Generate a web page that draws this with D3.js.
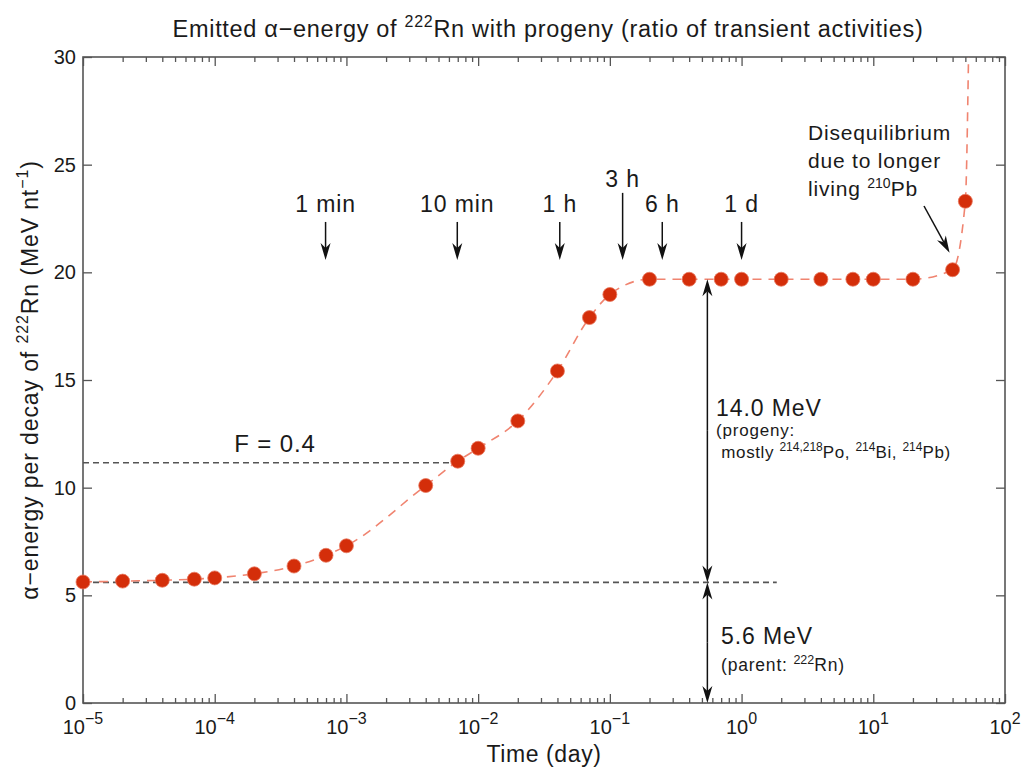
<!DOCTYPE html>
<html>
<head>
<meta charset="utf-8">
<script src="https://cdn.jsdelivr.net/npm/d3@7"></script>
<style>
  body { margin: 0; background: #fff; }
  svg { font-family: "Liberation Sans", Arial, sans-serif; }
</style>
</head>
<body>
<svg id="chart" width="1024" height="767"></svg>
<script>
// data
const days = [1e-5, 2e-5, 4e-5, 7e-5, 1e-4, 2e-4, 4e-4, 7e-4, 1e-3, 4e-3, 7e-3, 1e-2, 2e-2, 4e-2, 7e-2, 0.1, 0.2, 0.4, 0.7, 1, 2, 4, 7, 10, 20, 40, 50];
const energy = [5.62, 5.66, 5.7, 5.75, 5.81, 6.0, 6.36, 6.86, 7.3, 10.1, 11.23, 11.83, 13.1, 15.42, 17.9, 18.97, 19.68, 19.68, 19.68, 19.68, 19.68, 19.68, 19.68, 19.68, 19.68, 20.12, 23.3];
// the dashed curve keeps rising past the last point
const curveTailDay = [53];
const curveTailEnergy = [30.5];

const markerLabels = ['1 min', '10 min', '1 h', '3 h', '6 h', '1 d'];
const markerDays = [1 / 1440, 10 / 1440, 1 / 24, 3 / 24, 6 / 24, 1];

const xTickExp = [-5, -4, -3, -2, -1, 0, 1, 2];
const yTicks = [0, 5, 10, 15, 20, 25, 30];

const parentEnergy = 5.6;
const plateauEnergy = 19.68;
const fLevel = 11.16;
const splitDay = 0.55;

let svg = d3.select('#chart');
let pLeft = 83, pRight = 1005, pTop = 57, pBottom = 703;

let x = d3.scaleLog().domain([1e-5, 1e2]).range([pLeft, pRight]);
let y = d3.scaleLinear().domain([0, 30]).range([pBottom, pTop]);

let axisColor = '#555';
let textColor = '#1a1a1a';

// clip for the curve
svg.append('clipPath').attr('id', 'plotclip')
  .append('rect').attr('x', pLeft).attr('y', pTop).attr('width', pRight - pLeft).attr('height', pBottom - pTop);

// minor ticks positions
let minor = [];
for (let e = -5; e < 2; e++) {
  for (let m = 2; m <= 9; m++) minor.push(m * Math.pow(10, e));
}
let major = xTickExp.map(e => Math.pow(10, e));

function styleAxis(g) {
  g.select('.domain').remove();
  g.selectAll('line').attr('stroke', axisColor).attr('stroke-width', 1.3);
}

// x axes (ticks inside, bottom and top)
svg.append('g').attr('transform', `translate(0,${pBottom})`)
  .call(d3.axisBottom(x).tickValues(major).tickSize(-9).tickFormat(''))
  .call(styleAxis);
svg.append('g').attr('transform', `translate(0,${pBottom})`)
  .call(d3.axisBottom(x).tickValues(minor).tickSize(-5).tickFormat(''))
  .call(styleAxis);
svg.append('g').attr('transform', `translate(0,${pTop})`)
  .call(d3.axisTop(x).tickValues(major).tickSize(-9).tickFormat(''))
  .call(styleAxis);
svg.append('g').attr('transform', `translate(0,${pTop})`)
  .call(d3.axisTop(x).tickValues(minor).tickSize(-5).tickFormat(''))
  .call(styleAxis);

// y axes
let yl = svg.append('g').attr('transform', `translate(${pLeft},0)`)
  .call(d3.axisLeft(y).tickValues(yTicks).tickSize(-9).tickPadding(7))
  .call(styleAxis);
yl.selectAll('text').attr('font-size', 20).attr('fill', textColor)
  .attr('font-family', '"Liberation Sans", Arial, sans-serif');
svg.append('g').attr('transform', `translate(${pRight},0)`)
  .call(d3.axisRight(y).tickValues(yTicks).tickSize(-9).tickFormat(''))
  .call(styleAxis);

// box
svg.append('rect')
  .attr('x', pLeft).attr('y', pTop).attr('width', pRight - pLeft).attr('height', pBottom - pTop)
  .attr('fill', 'none').attr('stroke', axisColor).attr('stroke-width', 1.6);

// x tick labels 10^n
let xl = svg.append('g');
xTickExp.forEach(e => {
  let t = xl.append('text')
    .attr('x', x(Math.pow(10, e))).attr('y', pBottom + 31)
    .attr('text-anchor', 'middle').attr('font-size', 20).attr('fill', textColor);
  t.append('tspan').text('10');
  t.append('tspan').attr('dy', -10).attr('font-size', 16).text(e < 0 ? '\u2212' + (-e) : e);
});

// axis titles
svg.append('text')
  .attr('x', (pLeft + pRight) / 2).attr('y', 762)
  .attr('text-anchor', 'middle').attr('font-size', 23).attr('letter-spacing', 0.6)
  .attr('fill', textColor)
  .text('Time (day)');

let ylab = svg.append('text')
  .attr('transform', `translate(38,${(pTop + pBottom) / 2}) rotate(-90)`)
  .attr('text-anchor', 'middle').attr('font-size', 23).attr('letter-spacing', 0.9)
  .attr('fill', textColor);
ylab.append('tspan').text('\u03b1\u2212energy per decay of ');
ylab.append('tspan').attr('dy', -10).attr('font-size', 16).text('222');
ylab.append('tspan').attr('dy', 10).text('Rn (MeV nt');
ylab.append('tspan').attr('dy', -10).attr('font-size', 16).text('\u22121');
ylab.append('tspan').attr('dy', 10).text(')');

// title
let title = svg.append('text')
  .attr('x', 548).attr('y', 37)
  .attr('text-anchor', 'middle').attr('font-size', 23.5).attr('letter-spacing', 0.7)
  .attr('fill', textColor);
title.append('tspan').text('Emitted \u03b1\u2212energy of ');
title.append('tspan').attr('dy', -10).attr('font-size', 16).text('222');
title.append('tspan').attr('dy', 10).text('Rn with progeny (ratio of transient activities)');

// reference dashed lines
svg.append('line')
  .attr('x1', x(1e-5)).attr('x2', x(1.85))
  .attr('y1', y(parentEnergy)).attr('y2', y(parentEnergy))
  .attr('stroke', '#555').attr('stroke-width', 1.6).attr('stroke-dasharray', '6,4');
svg.append('line')
  .attr('x1', x(1e-5)).attr('x2', x(6.1e-3))
  .attr('y1', y(fLevel)).attr('y2', y(fLevel))
  .attr('stroke', '#555').attr('stroke-width', 1.6).attr('stroke-dasharray', '6,4');
svg.append('text')
  .attr('x', 275).attr('y', y(fLevel) - 11)
  .attr('text-anchor', 'middle').attr('font-size', 24).attr('letter-spacing', 0.9)
  .attr('fill', textColor)
  .text('F = 0.4');

// red dashed curve through the points
let curvePts = days.map((d, i) => [d, energy[i]])
  .concat(curveTailDay.map((d, i) => [d, curveTailEnergy[i]]));
let line = d3.line()
  .x(d => x(d[0])).y(d => y(d[1]))
  .curve(d3.curveMonotoneX);
svg.append('path')
  .attr('d', line(curvePts))
  .attr('clip-path', 'url(#plotclip)')
  .attr('fill', 'none').attr('stroke', '#f08470').attr('stroke-width', 1.6)
  .attr('stroke-dasharray', '9,7');

// points
svg.selectAll('circle.pt')
  .data(days.map((d, i) => [d, energy[i]]))
  .enter()
  .append('circle')
  .attr('class', 'pt')
  .attr('cx', d => x(d[0]))
  .attr('cy', d => y(d[1]))
  .attr('r', 7)
  .attr('fill', '#d42e0a')
  .attr('stroke', '#e8795f')
  .attr('stroke-width', 0.8);

// arrow helper: line from (x1,y1) to (x2,y2) with head at the end
function arrow(x1, y1, x2, y2, color, width) {
  let ang = Math.atan2(y2 - y1, x2 - x1);
  let len = 17, half = 5, notch = 5;
  let bx = x2 - len * Math.cos(ang), by = y2 - len * Math.sin(ang);
  let nx = x2 - (len - notch) * Math.cos(ang), ny = y2 - (len - notch) * Math.sin(ang);
  let px = -Math.sin(ang), py = Math.cos(ang);
  svg.append('line')
    .attr('x1', x1).attr('y1', y1).attr('x2', nx).attr('y2', ny)
    .attr('stroke', color).attr('stroke-width', width);
  svg.append('path')
    .attr('d', `M${x2},${y2}L${bx + px * half},${by + py * half}L${nx},${ny}L${bx - px * half},${by - py * half}Z`)
    .attr('fill', color);
}

// time markers
markerLabels.forEach((lab, i) => {
  let long = lab === '3 h';
  let cx = x(markerDays[i]);
  arrow(cx, long ? y(23.69) : y(22.34), cx, y(20.57), '#111', 1.5);
  svg.append('text')
    .attr('x', cx).attr('y', long ? y(23.97) : y(22.8))
    .attr('text-anchor', 'middle').attr('font-size', 23).attr('letter-spacing', 0.9)
    .attr('fill', textColor)
    .text(lab);
});

// energy split arrows
let sx = x(splitDay);
let sMid = (y(plateauEnergy) + y(parentEnergy)) / 2;
arrow(sx, sMid, sx, y(plateauEnergy), '#111', 1.5);
arrow(sx, sMid, sx, y(parentEnergy), '#111', 1.5);
let sLow = (y(parentEnergy) + y(0)) / 2;
arrow(sx, sLow, sx, y(parentEnergy), '#111', 1.5);
arrow(sx, sLow, sx, y(0), '#111', 1.5);

svg.append('text').attr('x', 716).attr('y', 416)
  .attr('font-size', 23).attr('letter-spacing', 0.9).attr('fill', textColor).text('14.0 MeV');
svg.append('text').attr('x', 716).attr('y', 436)
  .attr('font-size', 17).attr('letter-spacing', 0.8).attr('fill', textColor).text('(progeny:');
let prog = svg.append('text').attr('x', 716).attr('y', 458)
  .attr('font-size', 17).attr('letter-spacing', 0.6).attr('fill', textColor).attr('xml:space', 'preserve');
prog.append('tspan').text(' mostly ');
prog.append('tspan').attr('dy', -7).attr('font-size', 12).attr('letter-spacing', 0).text('214,218');
prog.append('tspan').attr('dy', 7).text('Po, ');
prog.append('tspan').attr('dy', -7).attr('font-size', 12).attr('letter-spacing', 0).text('214');
prog.append('tspan').attr('dy', 7).text('Bi, ');
prog.append('tspan').attr('dy', -7).attr('font-size', 12).attr('letter-spacing', 0).text('214');
prog.append('tspan').attr('dy', 7).text('Pb)');

svg.append('text').attr('x', 721).attr('y', 644)
  .attr('font-size', 23).attr('letter-spacing', 0.9).attr('fill', textColor).text('5.6 MeV');
let par = svg.append('text').attr('x', 721).attr('y', 671)
  .attr('font-size', 17.5).attr('letter-spacing', 0.8).attr('fill', textColor);
par.append('tspan').text('(parent: ');
par.append('tspan').attr('dy', -7).attr('font-size', 12.5).attr('letter-spacing', 0).text('222');
par.append('tspan').attr('dy', 7).text('Rn)');

// disequilibrium note
let noteLines = ['Disequilibrium', 'due to longer'];
noteLines.forEach((t, i) => {
  svg.append('text').attr('x', 808).attr('y', 140 + i * 28)
    .attr('font-size', 21).attr('letter-spacing', 0.8).attr('fill', textColor).text(t);
});
let liv = svg.append('text').attr('x', 808).attr('y', 196)
  .attr('font-size', 21).attr('letter-spacing', 0.8).attr('fill', textColor);
liv.append('tspan').text('living ');
liv.append('tspan').attr('dy', -8).attr('font-size', 14).attr('letter-spacing', 0).text('210');
liv.append('tspan').attr('dy', 8).text('Pb');
arrow(924, 206, x(40) - 3, y(20.12) - 17, '#111', 1.5);
</script>
</body>
</html>
